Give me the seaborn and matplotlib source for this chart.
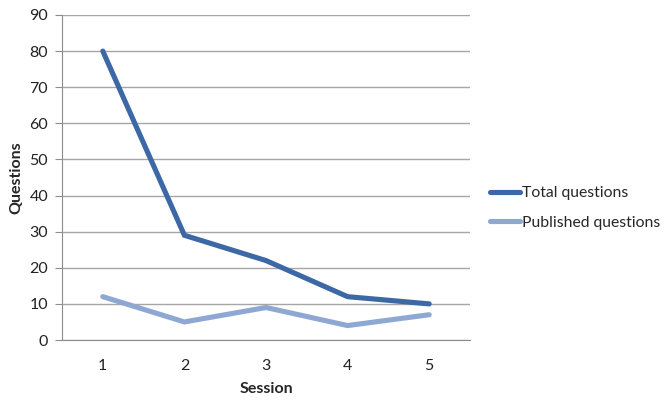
import matplotlib
matplotlib.use("Agg")
import matplotlib.pyplot as plt
import seaborn as sns
import pandas as pd

sessions = [1, 2, 3, 4, 5]
total_questions = [80, 29, 22, 12, 10]
published_questions = [12, 5, 9, 4, 7]
series_names = ["Total questions", "Published questions"]
colors = ["#3D68A6", "#8FA8D3"]

df = pd.DataFrame({
    "Session": sessions * 2,
    "Questions": total_questions + published_questions,
    "Series": [series_names[0]] * 5 + [series_names[1]] * 5,
})

sns.set_style("white")
plt.rcParams['font.family'] = ['Lato', 'DejaVu Sans']

fig = plt.figure(figsize=(6.64, 4.0), dpi=100)
ax = fig.add_axes([62/664, 60/400, 408/664, 325/400])

sns.lineplot(data=df, x="Session", y="Questions", hue="Series",
             palette=dict(zip(series_names, colors)), linewidth=3.7,
             ax=ax, legend=False, solid_joinstyle="miter")

ax.set_xlim(0.5, 5.5)
ax.set_ylim(0, 90)
ax.set_yticks(range(0, 91, 10))
ax.set_xticks(sessions)
ax.yaxis.grid(True, color="#A6A6A6", linewidth=1)
ax.set_axisbelow(True)
for s in ["top", "right"]:
    ax.spines[s].set_visible(False)
ax.spines["left"].set_color("#8C8C8C")
ax.spines["bottom"].set_color("#8C8C8C")
ax.tick_params(axis="y", which="both", left=True, length=5, color="#8C8C8C",
               labelsize=11.5, labelcolor="#222222", pad=5)
ax.tick_params(axis="x", which="both", bottom=False, labelsize=11.5,
               labelcolor="#222222", pad=10)
ax.set_ylabel("Questions", fontsize=11.5, fontweight="bold", labelpad=4)
ax.set_xlabel("Session", fontsize=11.5, fontweight="bold", labelpad=7)

from matplotlib.lines import Line2D
handles = [Line2D([], [], color=c, linewidth=3.7) for c in colors]
fig.legend(handles, series_names, loc="upper left",
           bbox_to_anchor=(476/664, 1 - 172/400), frameon=False,
           fontsize=11.3, handlelength=1.9, handletextpad=0.1, labelspacing=1.0)

fig.savefig("out.png", dpi=100)
